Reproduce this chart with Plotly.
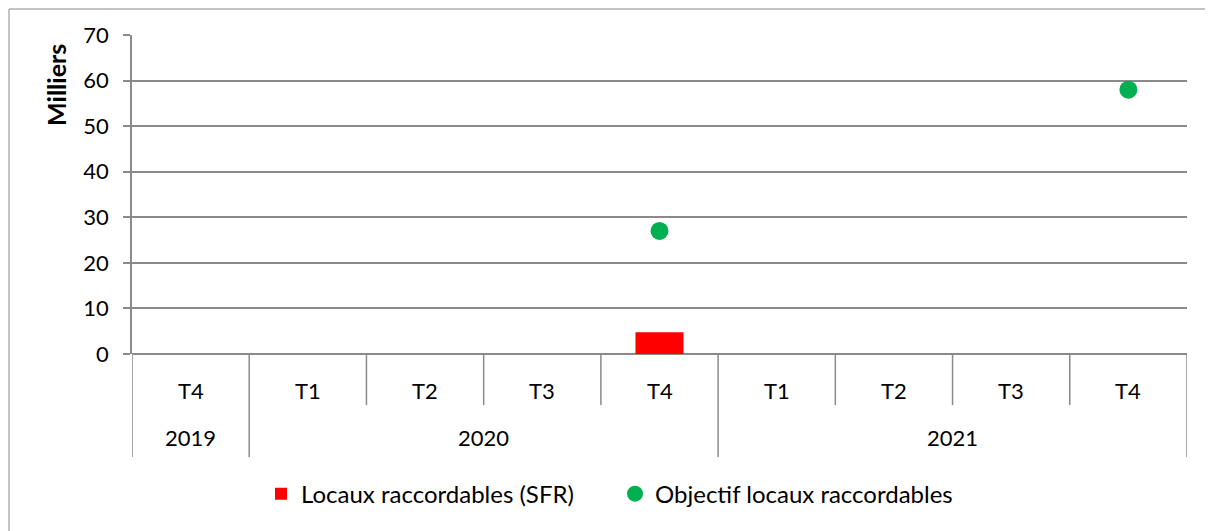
import plotly.graph_objects as go

quarters = ["T4", "T1", "T2", "T3", "T4", "T1", "T2", "T3", "T4"]
years = ["2019", "2020", "2021"]
year_span = [1, 4, 4]  # nb de trimestres par année
locaux_sfr = [None, None, None, None, 4.8, None, None, None, None]
objectif = [None, None, None, None, 27, None, None, None, 58]

GRID = "#8a8a8a"
FONT = "Lato, Open Sans, sans-serif"
x_idx = list(range(len(quarters)))

fig = go.Figure()
fig.add_trace(go.Bar(
    x=x_idx, y=locaux_sfr, name="Locaux raccordables (SFR)",
    marker=dict(color="#FF0000", line=dict(width=0)), width=0.41,
))
fig.add_trace(go.Scatter(
    x=x_idx, y=objectif, mode="markers", name="Objectif locaux raccordables",
    marker=dict(color="#00B050", size=18),
))

shapes = []
annotations = []

# multi-level category axis drawn by hand (Excel style)
for i, q in enumerate(quarters):
    annotations.append(dict(
        x=i, y=-0.113, xref="x", yref="paper", text=q, showarrow=False,
        font=dict(size=22, color="#000"), yanchor="middle",
    ))

boundaries = [0]
for s in year_span:
    boundaries.append(boundaries[-1] + s)
for k, yr in enumerate(years):
    annotations.append(dict(
        x=(boundaries[k] + boundaries[k + 1]) / 2 - 0.5, y=-0.263, xref="x", yref="paper",
        text=yr, showarrow=False, font=dict(size=22, color="#000"), yanchor="middle",
    ))

for b in range(len(quarters) + 1):
    long_line = b in boundaries
    shapes.append(dict(
        type="line", xref="x", yref="paper", x0=b - 0.5, x1=b - 0.5,
        y0=0, y1=-0.323 if long_line else -0.16,
        line=dict(color=GRID, width=1.5),
    ))

# outer chart frame (only left and top edges visible)
shapes.append(dict(type="line", xref="paper", yref="paper",
                   x0=-0.1166, x1=-0.1166, y0=1.0815, y1=-0.56,
                   line=dict(color="#b0b0b0", width=1.5)))
shapes.append(dict(type="line", xref="paper", yref="paper",
                   x0=-0.1166, x1=1.05, y0=1.0815, y1=1.0815,
                   line=dict(color="#b0b0b0", width=1.5)))

annotations.append(dict(
    x=-0.0715, y=0.977, xref="paper", yref="paper", text="<b>Milliers</b>",
    textangle=-90, showarrow=False, xanchor="center", yanchor="top",
    font=dict(size=25, color="#000"),
))

# the page body has an 8px margin: size the figure to the remaining area
fig.update_layout(
    width=1205, height=523,
    margin=dict(l=124, r=26, t=27, b=177),
    plot_bgcolor="white", paper_bgcolor="white",
    font=dict(family=FONT, size=22, color="#000"),
    showlegend=True,
    legend=dict(
        orientation="h", x=0.1223, xanchor="left", y=-0.439, yanchor="middle",
        font=dict(size=24), traceorder="normal", entrywidth=309,
    ),
    xaxis=dict(
        range=[-0.5, len(quarters) - 0.5], showticklabels=False,
        showgrid=False, zeroline=False, showline=False, fixedrange=True,
    ),
    yaxis=dict(
        range=[0, 70], dtick=10, showgrid=True, gridcolor=GRID, gridwidth=1.5,
        zeroline=True, zerolinecolor=GRID, zerolinewidth=1.5,
        showline=True, linecolor=GRID, linewidth=1.5,
        ticks="outside", ticklen=7, tickcolor=GRID, tickwidth=1.5,
        tickfont=dict(size=22), ticklabelstandoff=10, fixedrange=True,
    ),
    shapes=shapes,
    annotations=annotations,
)

fig.write_html("out.html")
